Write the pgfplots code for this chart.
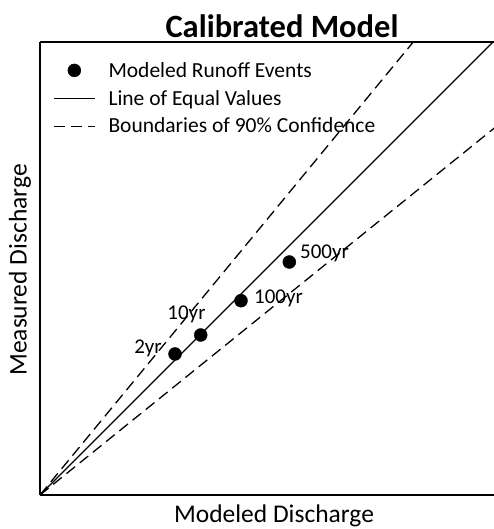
\documentclass[border=0pt]{standalone}
\usepackage{pgfplots}
\pgfplotsset{compat=1.18}
\usepackage{fontspec}
\setmainfont{Carlito}
\begin{document}
\begin{tikzpicture}
\useasboundingbox (-40pt,-34pt) rectangle (454pt,495pt);
\begin{axis}[
  at={(0,0)}, anchor=south west,
  width=460pt, height=453pt, scale only axis,
  xmin=0, xmax=460, ymin=0, ymax=453,
  axis lines*=left,
  x axis line style={-, line width=1.4pt},
  y axis line style={-, line width=1.4pt},
  ticks=none,
  xlabel={Modeled Discharge},
  ylabel={Measured Discharge},
  xlabel style={font=\fontsize{25.5}{30}\selectfont, at={(rel axis cs:0.5087,-0.0464)}, anchor=center},
  ylabel style={font=\fontsize{25.5}{30}\selectfont, at={(rel axis cs:-0.0435,0.4967)}, anchor=center},
  legend style={draw=none, fill=none, at={(axis cs:10,437)}, anchor=north west,
    font=\fontsize{21.5}{26}\selectfont, row sep=7.5pt,
    legend cell align=left,
    /tikz/every odd column/.append style={column sep=11pt}},
  legend image code/.code={\draw[#1] (0pt,0pt) -- (41pt,0pt);},
]
\addplot[only marks, mark=*, mark size=6.5pt, black,
  legend image code/.code={\fill (20.5pt,0pt) circle (6.5pt);}]
  coordinates {(135,141) (160.7,160) (201,194.3) (249.3,233)};
\addlegendentry{Modeled Runoff Events}
\addplot[black, line width=1.3pt] coordinates {(0,0) (520,520)};
\addlegendentry{Line of Equal Values}
\addplot[black, line width=1.3pt, dash pattern=on 11pt off 6pt] coordinates {(0,0) (440,534)};
\addlegendentry{Boundaries of 90\% Confidence}
\addplot[black, line width=1.3pt, dash pattern=on 11pt off 6pt, forget plot] coordinates {(0,0) (520,420)};
\node[anchor=east, font=\fontsize{21}{25}\selectfont, inner sep=0pt] at (axis cs:122,147) {2yr};
\node[anchor=center, font=\fontsize{21}{25}\selectfont, inner sep=0pt] at (axis cs:146.5,181) {10yr};
\node[anchor=west, font=\fontsize{21}{25}\selectfont, inner sep=0pt] at (axis cs:214,197) {100yr};
\node[anchor=west, font=\fontsize{21}{25}\selectfont, inner sep=0pt] at (axis cs:260,242) {500yr};
\end{axis}
\draw[line width=1.4pt] (0pt,453pt) -- (470pt,453pt);
\node[font=\fontsize{32.5}{38}\selectfont\bfseries] at (242pt,469pt) {Calibrated Model};
\end{tikzpicture}
\end{document}
